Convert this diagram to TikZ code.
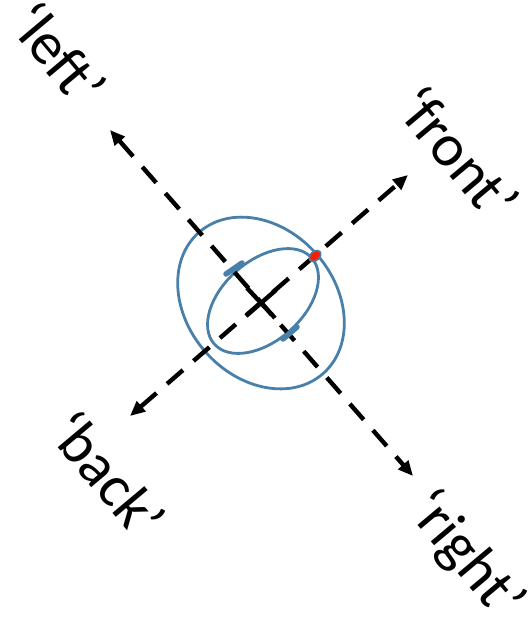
\documentclass[tikz,border=0pt]{standalone}
\usepackage{fontspec}
\setmainfont{Carlito}
\usetikzlibrary{arrows.meta}
\definecolor{ringblue}{RGB}{72,128,170}
\definecolor{dotred}{RGB}{250,30,0}
\tikzset{
  axisline/.style={line width=4.4pt, dash pattern=on 21pt off 14pt, {Triangle[length=15pt,width=13pt]}-{Triangle[length=15pt,width=13pt]}},
  ring/.style={draw=ringblue, line width=2.8pt},
  tickmark/.style={draw=ringblue, line width=5.5pt, line cap=round},
  crossarm/.style={line width=4.4pt},
  lab/.style={font=\fontsize{60}{64}\selectfont, inner sep=0pt, rotate=-50}
}
\begin{document}
\begin{tikzpicture}[x=1pt,y=-1pt]
\useasboundingbox (0,0) rectangle (528,622);
% endpoints of the two axes
\coordinate (L) at (110,130);
\coordinate (R) at (413,476);
\coordinate (F) at (408,175);
\coordinate (B) at (130,416);
\coordinate (C) at (261,303);
% ellipses
\draw[ring, rotate around={-48.7:(261,303)}] (261,303) ellipse (94pt and 74pt);
\draw[ring, rotate around={41.4:(263,301)}] (263,301) ellipse (65pt and 40pt);
% axes
\draw[axisline] (L) -- (R);
\draw[axisline] (B) -- (F);
% cross
\draw[crossarm] ([shift={(-14,-15)}]C) -- ([shift={(14,15)}]C);
\draw[crossarm] ([shift={(-15,13)}]C) -- ([shift={(15,-13)}]C);
% tick marks on inner ellipse
\coordinate (t1a) at (226,274);
\coordinate (t1b) at (242,263);
\coordinate (t2a) at (283,339);
\coordinate (t2b) at (297,327);
\draw[tickmark] (t1a) -- (t1b);
\draw[tickmark] (t2a) -- (t2b);
% red dot
\draw[draw=ringblue, line width=1.6pt, fill=dotred, rotate around={41:(315,256)}] (315,256) ellipse (6.5pt and 4.5pt);
% labels
\node[lab] (left) at (59,54) {‘left’};
\node[lab] (front) at (458,153) {‘front’};
\node[lab] (back) at (108,474) {‘back’};
\node[lab] (right) at (465,556) {‘right’};
\end{tikzpicture}
\end{document}
